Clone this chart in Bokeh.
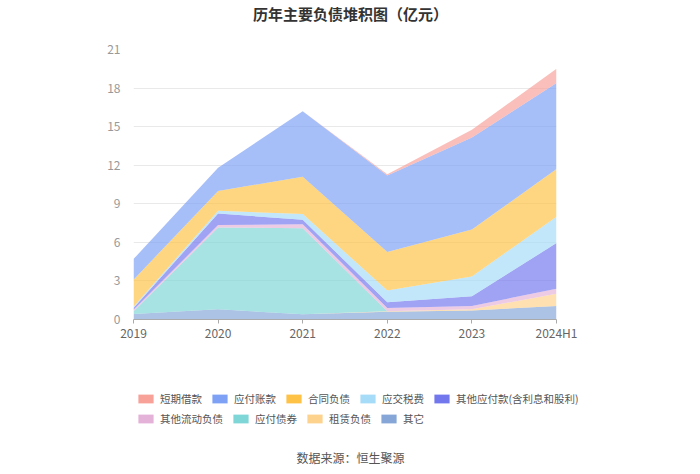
from bokeh.plotting import figure
from bokeh.layouts import column
from bokeh.models import (ColumnDataSource, Range1d, FixedTicker, Legend, LegendItem, Label)
from bokeh.embed import file_html
from bokeh.resources import INLINE

years = ["2019", "2020", "2021", "2022", "2023", "2024H1"]
# stacking order: bottom -> top
names = ["其它", "租赁负债", "应付债券", "其他流动负债", "其他应付款(含利息和股利)",
         "应交税费", "合同负债", "应付账款", "短期借款"]
qita = [0.42, 0.80, 0.40, 0.60, 0.70, 1.05]
zulin = [0.0, 0.0, 0.0, 0.05, 0.10, 0.95]
zhaiquan = [0.23, 6.35, 6.70, 0.0, 0.0, 0.0]
liudong = [0.10, 0.20, 0.30, 0.25, 0.25, 0.40]
qitayingfu = [0.15, 0.90, 0.35, 0.45, 0.75, 3.55]
yingjiao = [0.10, 0.20, 0.45, 0.90, 1.55, 2.05]
hetong = [2.10, 1.55, 2.90, 3.00, 3.65, 3.70]
yingfu = [1.60, 1.80, 5.10, 5.95, 7.15, 6.70]
duanqi = [0.0, 0.0, 0.0, 0.10, 0.60, 1.10]
series = [qita, zulin, zhaiquan, liudong, qitayingfu, yingjiao, hetong, yingfu, duanqi]
colors = ["#86a6d8", "#fdd28c", "#7fd6d6", "#e4b2d8", "#7377ee",
          "#a6dcf8", "#fdc246", "#7ea1f6", "#f7a199"]
legend_row1 = ["短期借款", "应付账款", "合同负债", "应交税费", "其他应付款(含利息和股利)"]
legend_row2 = ["其他流动负债", "应付债券", "租赁负债", "其它"]
y_ticks = [0, 3, 6, 9, 12, 15, 18, 21]
title_text = "历年主要负债堆积图（亿元）"
source_text = "数据来源：恒生聚源"

FONT = "Noto Sans CJK SC"


def strip(h):
    f = figure(width=700, height=h, output_backend="svg", toolbar_location=None,
               x_range=Range1d(0, 700), y_range=Range1d(0, h),
               min_border_left=0, min_border_right=0, min_border_top=0,
               min_border_bottom=0, x_axis_type=None, y_axis_type=None)
    f.outline_line_color = None
    f.grid.visible = False
    f.background_fill_color = "white"
    f.border_fill_color = "white"
    return f

# ---- title strip ----
H0 = 35
p0 = strip(H0)

# ---- main chart ----
data = {"x": list(range(len(years)))}
keys = []
for i, s in enumerate(series):
    k = "s%d" % i
    keys.append(k)
    data[k] = s
src = ColumnDataSource(data)

p = figure(width=700, height=310, output_backend="svg", toolbar_location=None,
           x_range=Range1d(0, len(years) - 1), y_range=Range1d(0, 21),
           min_border_left=133, min_border_right=144, min_border_top=14,
           min_border_bottom=26)
p.outline_line_color = None
p.background_fill_color = "white"
p.border_fill_color = "white"

p.varea_stack(stackers=keys, x="x", source=src, color=colors, fill_alpha=0.68)

p.xaxis.ticker = FixedTicker(ticks=list(range(len(years))))
p.xaxis.major_label_overrides = {i: y for i, y in enumerate(years)}
p.xaxis.axis_line_color = "#aaaaaa"
p.xaxis.major_tick_line_color = "#aaaaaa"
p.xaxis.major_tick_out = 4
p.xaxis.major_tick_in = 0
p.xaxis.minor_tick_line_color = None
p.xaxis.major_label_text_color = "#666666"
p.xaxis.major_label_text_font = FONT
p.xaxis.major_label_text_font_size = "12px"
p.xaxis.major_label_standoff = 0

p.yaxis.ticker = FixedTicker(ticks=y_ticks)
p.yaxis.axis_line_color = None
p.yaxis.major_tick_line_color = None
p.yaxis.minor_tick_line_color = None
p.yaxis.major_label_text_color = "#999999"
p.yaxis.major_label_text_font = FONT
p.yaxis.major_label_text_font_size = "12px"
p.yaxis.major_label_standoff = 7

p.xgrid.grid_line_color = None
p.ygrid.grid_line_color = "#e9e9e9"
p.ygrid.ticker = FixedTicker(ticks=y_ticks)

# ---- legend + source strip ----
H2 = 129
p2 = strip(H2)

# try to stop the column from aligning the strips' frames with the chart frame
frame_left = 0
try:
    for f in (p0, p, p2):
        f.frame_align = False
except Exception:
    frame_left = 133
    for f in (p0, p2):
        f.x_range = Range1d(133, 556)

p0.add_layout(Label(x=350, y=H0 - 12.5, text=title_text, text_align="center",
                    text_baseline="middle", text_font=FONT, text_font_size="15px",
                    text_font_style="bold", text_color="#333333"))

dummy = {}
for n, c in zip(names, colors):
    dummy[n] = p2.varea(x=[0, 0], y1=[0, 0], y2=[0, 0], fill_color=c, fill_alpha=1.0)

def make_legend(row, vy):
    lg = Legend(items=[LegendItem(label=n, renderers=[dummy[n]]) for n in row],
                orientation="horizontal", location=(136 - frame_left, vy),
                padding=0, margin=0, spacing=8, glyph_width=19, glyph_height=11,
                label_standoff=5, label_height=20, label_text_font=FONT,
                label_text_font_size="10.5px", label_text_color="#555555",
                border_line_color=None, background_fill_alpha=0)
    p2.add_layout(lg, "center")

make_legend(legend_row1, 66)
make_legend(legend_row2, 46)

p2.add_layout(Label(x=350, y=17, text=source_text, text_align="center",
                    text_baseline="middle", text_font=FONT, text_font_size="12px",
                    text_color="#555555"))

layout = column(p0, p, p2, spacing=0)
open("out.html", "w").write(file_html(layout, INLINE))
